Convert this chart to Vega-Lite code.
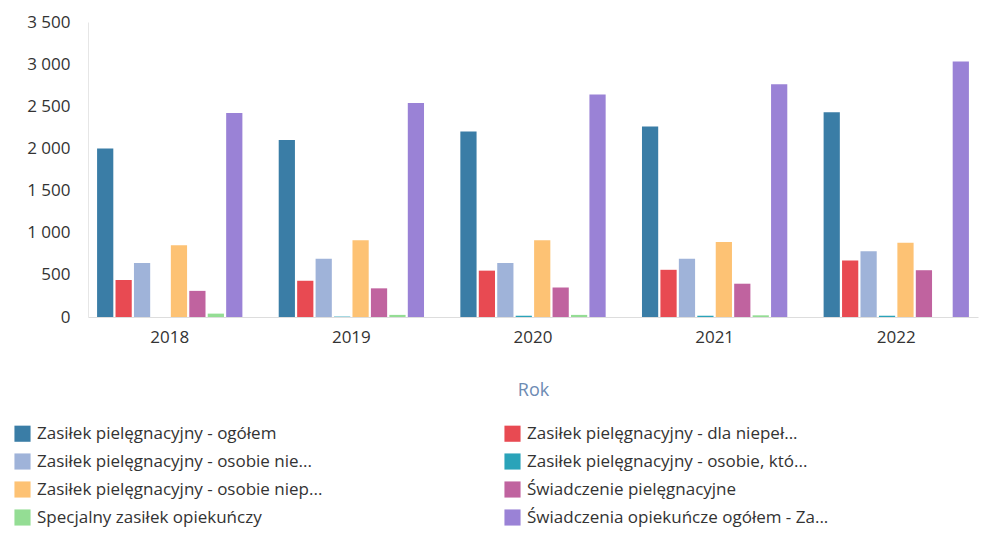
{
  "$schema": "https://vega.github.io/schema/vega-lite/v6.json",
  "width": 890,
  "height": 295,
  "autosize": {"type": "none"},
  "padding": {"left": 88, "top": 22, "right": 5, "bottom": 236},
  "background": "white",
  "config": {
    "font": "Open Sans",
    "view": {"stroke": null}
  },
  "datasets": {
    "d": [
      {"rok": "2018", "seria": "Zasiłek pielęgnacyjny - ogółem", "v": 2000},
      {"rok": "2018", "seria": "Zasiłek pielęgnacyjny - dla niepeł...", "v": 440},
      {"rok": "2018", "seria": "Zasiłek pielęgnacyjny - osobie nie...", "v": 640},
      {"rok": "2018", "seria": "Zasiłek pielęgnacyjny - osobie, któ...", "v": 0},
      {"rok": "2018", "seria": "Zasiłek pielęgnacyjny -  osobie niep...", "v": 850},
      {"rok": "2018", "seria": "Świadczenie pielęgnacyjne", "v": 310},
      {"rok": "2018", "seria": "Specjalny zasiłek opiekuńczy", "v": 40},
      {"rok": "2018", "seria": "Świadczenia opiekuńcze ogółem - Za...", "v": 2420},
      {"rok": "2019", "seria": "Zasiłek pielęgnacyjny - ogółem", "v": 2100},
      {"rok": "2019", "seria": "Zasiłek pielęgnacyjny - dla niepeł...", "v": 430},
      {"rok": "2019", "seria": "Zasiłek pielęgnacyjny - osobie nie...", "v": 690},
      {"rok": "2019", "seria": "Zasiłek pielęgnacyjny - osobie, któ...", "v": 5},
      {"rok": "2019", "seria": "Zasiłek pielęgnacyjny -  osobie niep...", "v": 910},
      {"rok": "2019", "seria": "Świadczenie pielęgnacyjne", "v": 340},
      {"rok": "2019", "seria": "Specjalny zasiłek opiekuńczy", "v": 25},
      {"rok": "2019", "seria": "Świadczenia opiekuńcze ogółem - Za...", "v": 2540},
      {"rok": "2020", "seria": "Zasiłek pielęgnacyjny - ogółem", "v": 2200},
      {"rok": "2020", "seria": "Zasiłek pielęgnacyjny - dla niepeł...", "v": 550},
      {"rok": "2020", "seria": "Zasiłek pielęgnacyjny - osobie nie...", "v": 640},
      {"rok": "2020", "seria": "Zasiłek pielęgnacyjny - osobie, któ...", "v": 15},
      {"rok": "2020", "seria": "Zasiłek pielęgnacyjny -  osobie niep...", "v": 910},
      {"rok": "2020", "seria": "Świadczenie pielęgnacyjne", "v": 350},
      {"rok": "2020", "seria": "Specjalny zasiłek opiekuńczy", "v": 25},
      {"rok": "2020", "seria": "Świadczenia opiekuńcze ogółem - Za...", "v": 2640},
      {"rok": "2021", "seria": "Zasiłek pielęgnacyjny - ogółem", "v": 2260},
      {"rok": "2021", "seria": "Zasiłek pielęgnacyjny - dla niepeł...", "v": 560},
      {"rok": "2021", "seria": "Zasiłek pielęgnacyjny - osobie nie...", "v": 690},
      {"rok": "2021", "seria": "Zasiłek pielęgnacyjny - osobie, któ...", "v": 15},
      {"rok": "2021", "seria": "Zasiłek pielęgnacyjny -  osobie niep...", "v": 890},
      {"rok": "2021", "seria": "Świadczenie pielęgnacyjne", "v": 395},
      {"rok": "2021", "seria": "Specjalny zasiłek opiekuńczy", "v": 20},
      {"rok": "2021", "seria": "Świadczenia opiekuńcze ogółem - Za...", "v": 2760},
      {"rok": "2022", "seria": "Zasiłek pielęgnacyjny - ogółem", "v": 2430},
      {"rok": "2022", "seria": "Zasiłek pielęgnacyjny - dla niepeł...", "v": 670},
      {"rok": "2022", "seria": "Zasiłek pielęgnacyjny - osobie nie...", "v": 780},
      {"rok": "2022", "seria": "Zasiłek pielęgnacyjny - osobie, któ...", "v": 15},
      {"rok": "2022", "seria": "Zasiłek pielęgnacyjny -  osobie niep...", "v": 880},
      {"rok": "2022", "seria": "Świadczenie pielęgnacyjne", "v": 555},
      {"rok": "2022", "seria": "Specjalny zasiłek opiekuńczy", "v": 0},
      {"rok": "2022", "seria": "Świadczenia opiekuńcze ogółem - Za...", "v": 3030}
    ]
  },
  "data": {"name": "d"},
  "mark": {"type": "bar"},
  "encoding": {
    "x": {
      "field": "rok",
      "type": "nominal",
      "scale": {"paddingInner": 0.2, "paddingOuter": 0.05},
      "axis": {
        "title": "Rok",
        "titleFontSize": 18,
        "titleFontWeight": "normal",
        "titleColor": "#6d8bb3",
        "titlePadding": 36,
        "labelAngle": 0,
        "labelFontSize": 17,
        "labelColor": "#333333",
        "labelPadding": 12,
        "ticks": false,
        "domainColor": "#dddddd"
      }
    },
    "xOffset": {
      "field": "seria",
      "type": "nominal",
      "sort": [
        "Zasiłek pielęgnacyjny - ogółem",
        "Zasiłek pielęgnacyjny - dla niepeł...",
        "Zasiłek pielęgnacyjny - osobie nie...",
        "Zasiłek pielęgnacyjny - osobie, któ...",
        "Zasiłek pielęgnacyjny -  osobie niep...",
        "Świadczenie pielęgnacyjne",
        "Specjalny zasiłek opiekuńczy",
        "Świadczenia opiekuńcze ogółem - Za..."
      ],
      "scale": {"paddingInner": 0.12}
    },
    "y": {
      "field": "v",
      "type": "quantitative",
      "scale": {"domain": [0, 3500]},
      "axis": {
        "title": null,
        "values": [0, 500, 1000, 1500, 2000, 2500, 3000, 3500],
        "labelExpr": "replace(format(datum.value, ','), ',', ' ')",
        "labelFontSize": 17,
        "labelColor": "#333333",
        "labelPadding": 18,
        "ticks": false,
        "grid": false,
        "domainColor": "#e6e6e6"
      }
    },
    "color": {
      "field": "seria",
      "type": "nominal",
      "sort": [
        "Zasiłek pielęgnacyjny - ogółem",
        "Zasiłek pielęgnacyjny - dla niepeł...",
        "Zasiłek pielęgnacyjny - osobie nie...",
        "Zasiłek pielęgnacyjny - osobie, któ...",
        "Zasiłek pielęgnacyjny -  osobie niep...",
        "Świadczenie pielęgnacyjne",
        "Specjalny zasiłek opiekuńczy",
        "Świadczenia opiekuńcze ogółem - Za..."
      ],
      "scale": {
        "range": ["#3a7da6", "#e84a52", "#9fb3d9", "#2aa3b9", "#fdc274", "#c0639f", "#94dd94", "#9a82d6"]
      },
      "legend": {
        "title": null,
        "orient": "none",
        "legendX": -74,
        "legendY": 403,
        "columns": 2,
        "direction": "horizontal",
        "symbolType": "square",
        "symbolSize": 260,
        "symbolStrokeWidth": 0,
        "labelFontSize": 17,
        "labelColor": "#333333",
        "labelLimit": 420,
        "labelOffset": 6,
        "rowPadding": 10,
        "columnPadding": 177
      }
    }
  }
}
